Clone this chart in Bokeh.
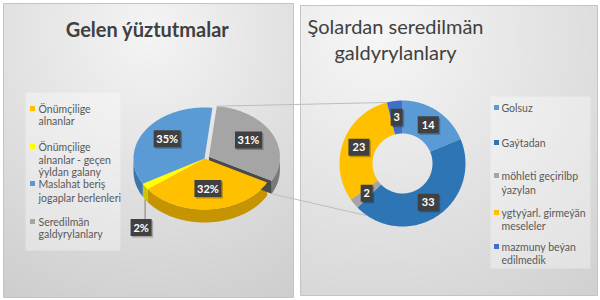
import numpy as np
from bokeh.plotting import figure
from bokeh.models import Range1d
from bokeh.embed import file_html
from bokeh.resources import INLINE
from bokeh.core.properties import value

# ---------------- data ----------------
pie_title = "Gelen ýüztutmalar"
pie_names = ["Önümçilige alnanlar",
             "Önümçilige alnanlar - geçen ýyldan galany",
             "Maslahat beriş jogaplar berlenleri",
             "Seredilmän galdyrylanlary"]
pie_legend_lines = [["Önümçilige", "alnanlar"],
                    ["Önümçilige", "alnanlar - geçen", "ýyldan galany"],
                    ["Maslahat beriş", "jogaplar berlenleri"],
                    ["Seredilmän", "galdyrylanlary"]]
pie_values = [32, 2, 35, 31]
pie_colors = ["#FFC000", "#FFFF00", "#5B9BD5", "#A5A5A5"]
pie_side_colors = ["#C59400", "#C8C800", "#3F76A8", "#7A7A7A"]

donut_title_lines = ["Şolardan seredilmän", "galdyrylanlary"]
donut_names = ["Golsuz", "Gaýtadan", "möhleti geçirilbp ýazylan",
               "ygtyýarl. girmeýän meseleler", "mazmuny beýan edilmedik"]
donut_legend_lines = [["Golsuz"], ["Gaýtadan"], ["möhleti geçirilbp", "ýazylan"],
                      ["ygtyýarl. girmeýän", "meseleler"], ["mazmuny beýan", "edilmedik"]]
donut_values = [14, 33, 2, 23, 3]
donut_colors = ["#5B9BD5", "#2E75B6", "#A5A5A5", "#FFC000", "#3F6FC6"]

FONT = "Lato"

p = figure(width=600, height=300, x_range=Range1d(0, 600), y_range=Range1d(300, 0),
           output_backend="svg", toolbar_location=None, min_border=0,
           x_axis_type=None, y_axis_type=None)
p.grid.visible = False
p.outline_line_color = None
p.background_fill_color = "white"
p.border_fill_color = "white"


def panel_gradient(w, h, fx, fy, light, dark):
    yy, xx = np.mgrid[0:h, 0:w].astype(float)
    d = np.hypot((xx - fx * w) / w, (yy - fy * h) / h)
    d = d / d.max()
    v = np.round(light + (dark - light) * d).astype(np.uint32)
    return (np.uint32(255) << 24) | (v << 16) | (v << 8) | v


# panels
p.image_rgba(image=[panel_gradient(290, 294, 0.5, 0.1, 244, 205)], x=3, y=3, dw=290, dh=294)
p.image_rgba(image=[panel_gradient(297, 290, 0.25, 0.1, 246, 208)], x=300, y=5, dw=297, dh=290)
p.rect(x=[148, 448.5], y=[150, 150], width=[290, 297], height=[294, 290],
       fill_alpha=0, line_color="#C4C4C4", line_width=1)

# titles
p.text(x=[147], y=[28], text=[pie_title], text_font=value(FONT), text_font_style="bold",
       text_font_size="20px", text_color="#404040", text_align="center", text_baseline="middle")
p.text(x=[395, 395], y=[25, 51], text=donut_title_lines, text_font=value(FONT),
       text_font_size="20px", text_color="#404040", text_align="center", text_baseline="middle")

# legend boxes
p.rect(x=[72.5, 540], y=[171, 182], width=[95, 100], height=[158, 172],
       fill_color="white", fill_alpha=0.35, line_color=None)

# left legend
left_item_y = [108, 146, 183, 221]
left_line_y = [[108, 120], [146, 159, 171], [183, 197], [221, 233]]
p.rect(x=[32] * 4, y=left_item_y, width=5, height=5, fill_color=pie_colors, line_color=None)
lx, ly, lt = [], [], []
for lines, ys in zip(pie_legend_lines, left_line_y):
    for t, yv in zip(lines, ys):
        lx.append(38); ly.append(yv); lt.append(t)
p.text(x=lx, y=ly, text=lt, text_font=value(FONT), text_font_size="10.5px",
       text_color="#595959", text_align="left", text_baseline="middle")

# right legend
right_item_y = [107, 142, 175, 212, 246]
right_line_y = [[107], [142], [175, 189], [212, 225], [246, 259]]
p.rect(x=[496] * 5, y=right_item_y, width=5, height=5, fill_color=donut_colors, line_color=None)
rx_, ry_, rt_ = [], [], []
for lines, ys in zip(donut_legend_lines, right_line_y):
    for t, yv in zip(lines, ys):
        rx_.append(501); ry_.append(yv); rt_.append(t)
p.text(x=rx_, y=ry_, text=rt_, text_font=value(FONT), text_font_size="10.5px",
       text_color="#595959", text_align="left", text_baseline="middle")

# ---------------- 3D pie ----------------
cx, cy, rx, ry, depth = 204, 158, 71, 51, 13
first_angle = 118.0
explode = [0, 0, 0, 5]
tot = float(sum(pie_values))
fr = np.array(pie_values) / tot
a0 = first_angle + 360 * np.concatenate([[0], np.cumsum(fr)[:-1]])
a1 = a0 + 360 * fr
mids = (a0 + a1) / 2


def ell(t, ox=0.0, oy=0.0, dy=0.0, k=1.0):
    t = np.radians(t)
    return cx + ox + k * rx * np.sin(t), cy + oy + dy - k * ry * np.cos(t)


offs = []
for i in range(len(pie_values)):
    m = np.radians(mids[i])
    offs.append((explode[i] * np.sin(m), -explode[i] * 0.7 * np.cos(m)))

# sides
for i in range(len(pie_values)):
    ts = np.linspace(a0[i], a1[i], 200)
    tm = np.mod(ts, 360)
    keep = ts[(tm >= 90) & (tm <= 270)]
    if len(keep) < 2:
        continue
    ox, oy = offs[i]
    xt, yt = ell(keep, ox, oy)
    xb, yb = ell(keep[::-1], ox, oy, depth)
    p.patch(np.concatenate([xt, xb]), np.concatenate([yt, yb]),
            fill_color=pie_side_colors[i], line_color=None)

# cut face of exploded slice
gi = 3
ox, oy = offs[gi]
ex, ey = ell(np.array([a1[gi]]), ox, oy)
p.patch([cx + ox, ex[0], ex[0], cx + ox], [cy + oy, ey[0], ey[0] + depth, cy + oy + depth],
        fill_color="#4A4A4A", line_color=None)

# tops
for i in range(len(pie_values)):
    ox, oy = offs[i]
    ts = np.linspace(a0[i], a1[i], 200)
    xe, ye = ell(ts, ox, oy)
    p.patch(np.concatenate([[cx + ox], xe]), np.concatenate([[cy + oy], ye]),
            fill_color=pie_colors[i], line_color=None)

# connector anchor points on the exploded slice
ux, uy = ell(np.array([a0[gi] % 360]), *offs[gi])
lx2, ly2 = ell(np.array([a1[gi] % 360]), offs[gi][0], offs[gi][1], depth)

# ---------------- donut ----------------
dcx, dcy, r_out, r_in = 402, 163, 63, 30
dtot = float(sum(donut_values))
dfr = np.array(donut_values) / dtot
d0 = 360 * np.concatenate([[0], np.cumsum(dfr)[:-1]])
d1 = d0 + 360 * dfr
dmid = (d0 + d1) / 2


def circ(t, r):
    t = np.radians(t)
    return dcx + r * np.sin(t), dcy - r * np.cos(t)


for i in range(len(donut_values)):
    ts = np.linspace(d0[i], d1[i], 150)
    xo, yo = circ(ts, r_out)
    xi, yi = circ(ts[::-1], r_in)
    p.patch(np.concatenate([xo, xi]), np.concatenate([yo, yi]),
            fill_color=donut_colors[i], line_color=None)

# connector lines (grey slice -> donut)
dux, duy = circ(np.array([d0[4]]), r_out)
dlx, dly = circ(np.array([214.0]), r_out)
p.segment(x0=[ux[0], lx2[0]], y0=[uy[0], ly2[0]], x1=[dux[0], dlx[0]], y1=[duy[0], dly[0]],
          line_color="#BDBDBD", line_width=1)

# ---------------- data labels ----------------
pct = [f"{round(v / tot * 100)}%" for v in pie_values]
lab_x, lab_y, lab_t, lab_w = [], [], [], []
for i in range(len(pie_values)):
    if pie_values[i] / tot < 0.05:
        continue
    ox, oy = offs[i]
    xx, yy = ell(np.array([mids[i]]), ox, oy, 0, 0.63)
    lab_x.append(xx[0]); lab_y.append(yy[0] - 2); lab_t.append(pct[i]); lab_w.append(27)

# small slice label outside with leader line
small = [i for i in range(len(pie_values)) if pie_values[i] / tot < 0.05]
for i in small:
    sx, sy = ell(np.array([mids[i]]), 0, 0, depth)
    p.segment(x0=[sx[0]], y0=[sy[0]], x1=[sx[0]], y1=[sy[0] + 20], line_color="#7F7F7F", line_width=1)
    lab_x.append(sx[0] - 4); lab_y.append(sy[0] + 28); lab_t.append(pct[i]); lab_w.append(21)

for i in range(len(donut_values)):
    xx, yy = circ(np.array([dmid[i]]), (r_out + r_in) / 2)
    lab_x.append(xx[0]); lab_y.append(yy[0]); lab_t.append(str(donut_values[i]))
    lab_w.append(12 if donut_values[i] < 10 else 21)

p.rect(x=[x + 1.5 for x in lab_x], y=[y + 1.5 for y in lab_y], width=lab_w, height=17,
       fill_color="#000000", fill_alpha=0.25, line_color=None)
p.rect(x=lab_x, y=lab_y, width=lab_w, height=17, fill_color="#404040", line_color=None)
p.text(x=lab_x, y=lab_y, text=lab_t, text_font=value(FONT), text_font_style="bold",
       text_font_size="11px", text_color="white", text_align="center", text_baseline="middle")

open("out.html", "w").write(file_html(p, INLINE))
